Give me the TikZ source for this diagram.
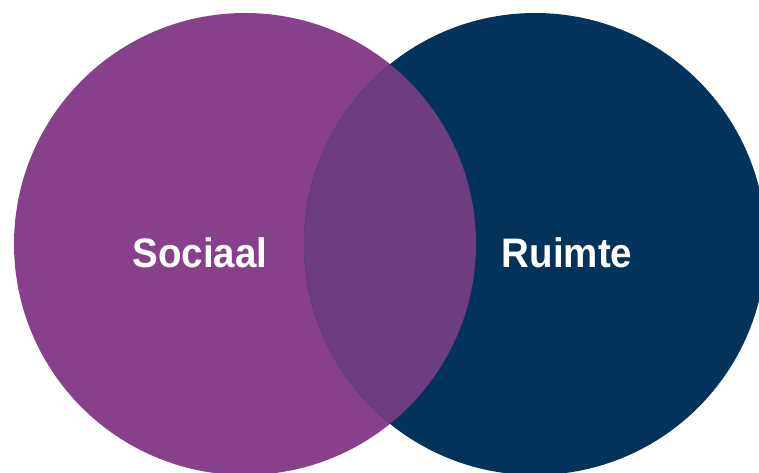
\documentclass[tikz,border=0pt]{standalone}
\usepackage{fontspec}
\setmainfont{Liberation Sans}
\definecolor{socpurple}{RGB}{135,65,139}
\definecolor{ruinavy}{RGB}{3,50,90}
\definecolor{overlapc}{RGB}{110,61,128}
\begin{document}
\begin{tikzpicture}[x=1pt,y=-1pt,
  lbl/.style={text=white,font=\fontsize{38.5}{46}\selectfont\bfseries,anchor=base,inner sep=0pt,yscale=1.07,transform shape}]
\useasboundingbox (0,0) rectangle (759,472);
\clip (0,0) rectangle (759,472);
\fill[white] (0,0) rectangle (759,472);
\fill[socpurple] (245,244) circle[radius=231];
\fill[ruinavy] (535,244) circle[radius=231];
\begin{scope}
  \clip (245,244) circle[radius=231];
  \fill[overlapc] (535,244) circle[radius=231];
\end{scope}
\node[lbl] (soc) at (200,267) {Sociaal};
\node[lbl] (rui) at (567,267) {Ruimte};
\end{tikzpicture}
\end{document}
